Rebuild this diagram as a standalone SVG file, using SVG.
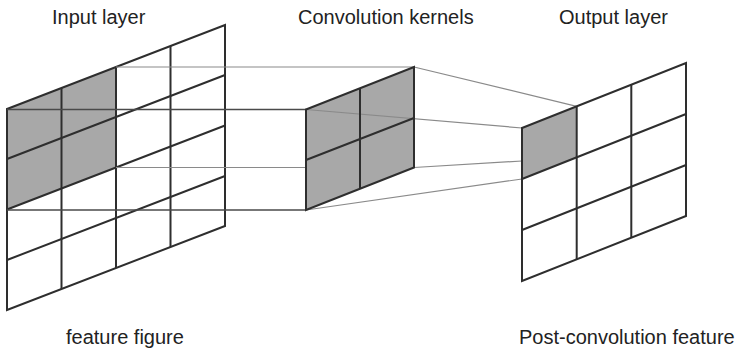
<svg xmlns="http://www.w3.org/2000/svg" width="742" height="355" viewBox="0 0 742 355">
  <style>
    .label { font-family: "Liberation Sans", Arial, sans-serif; font-size: 20px; fill: #222; }
    .grid { fill: none; stroke: #2e2e2e; stroke-width: 2; stroke-linejoin: miter; }
    .shade { fill: #a8a8a8; stroke: none; }
    .guide { stroke: #8a8a8a; stroke-width: 1.2; fill: none; }
    .guide-dark { stroke: #4a4a4a; stroke-width: 1.4; fill: none; }
  </style>

  <rect width="742" height="355" fill="#ffffff"/>

  <!-- Input layer: 4x4 skewed grid, top-left 2x2 block shaded -->
  <g id="input-layer">
    <polygon class="shade" points="7,109 116,67 116,167.5 7,209.5"/>
    <path class="grid" d="M7,109 L225,25 L225,226 L7,310 Z"/>
    <path class="grid" d="M7,159 L225,75 M7,209.5 L225,125.5 M7,260 L225,176"/>
    <path class="grid" d="M61.5,88 L61.5,289 M116,67 L116,268 M170.5,46 L170.5,247"/>
  </g>

  <!-- Projection lines: input block to kernel, kernel to output cell -->
  <g id="connectors">
    <line class="guide" x1="116" y1="67" x2="414" y2="67"/>
    <line class="guide-dark" x1="7" y1="109.5" x2="306" y2="109.5"/>
    <line class="guide" x1="116" y1="167.5" x2="414" y2="167.5"/>
    <line class="guide-dark" x1="7" y1="210" x2="306" y2="210"/>
    <line class="guide" x1="414" y1="67" x2="576.7" y2="106.3"/>
    <line class="guide" x1="414" y1="167.5" x2="522" y2="161"/>
    <line class="guide" x1="306" y1="210" x2="522" y2="179"/>
  </g>

  <!-- Convolution kernel: 2x2 shaded grid -->
  <g id="kernel">
    <polygon class="shade" points="306,109.5 414,67 414,167.5 306,210"/>
    <line class="guide" x1="306" y1="109.5" x2="522" y2="128"/>
    <path class="grid" d="M306,109.5 L414,67 L414,167.5 L306,210 Z"/>
    <path class="grid" d="M306,160 L414,118 M360,88.3 L360,188.8"/>
  </g>

  <!-- Output layer: 3x3 skewed grid, top-left cell shaded -->
  <g id="output-layer">
    <polygon class="shade" points="522,128 576.7,106.3 576.7,157.3 522,179"/>
    <path class="grid" d="M522,128 L686,63 L686,216 L522,281 Z"/>
    <path class="grid" d="M522,179 L686,114 M522,230 L686,165"/>
    <path class="grid" d="M576.7,106.3 L576.7,259.3 M631.3,84.7 L631.3,237.7"/>
  </g>

  <g id="labels">
    <text class="label" x="52" y="24">Input layer</text>
    <text class="label" x="298" y="24">Convolution kernels</text>
    <text class="label" x="559" y="24">Output layer</text>
    <text class="label" x="66" y="344">feature figure</text>
    <text class="label" x="519" y="344">Post-convolution feature</text>
  </g>
</svg>
